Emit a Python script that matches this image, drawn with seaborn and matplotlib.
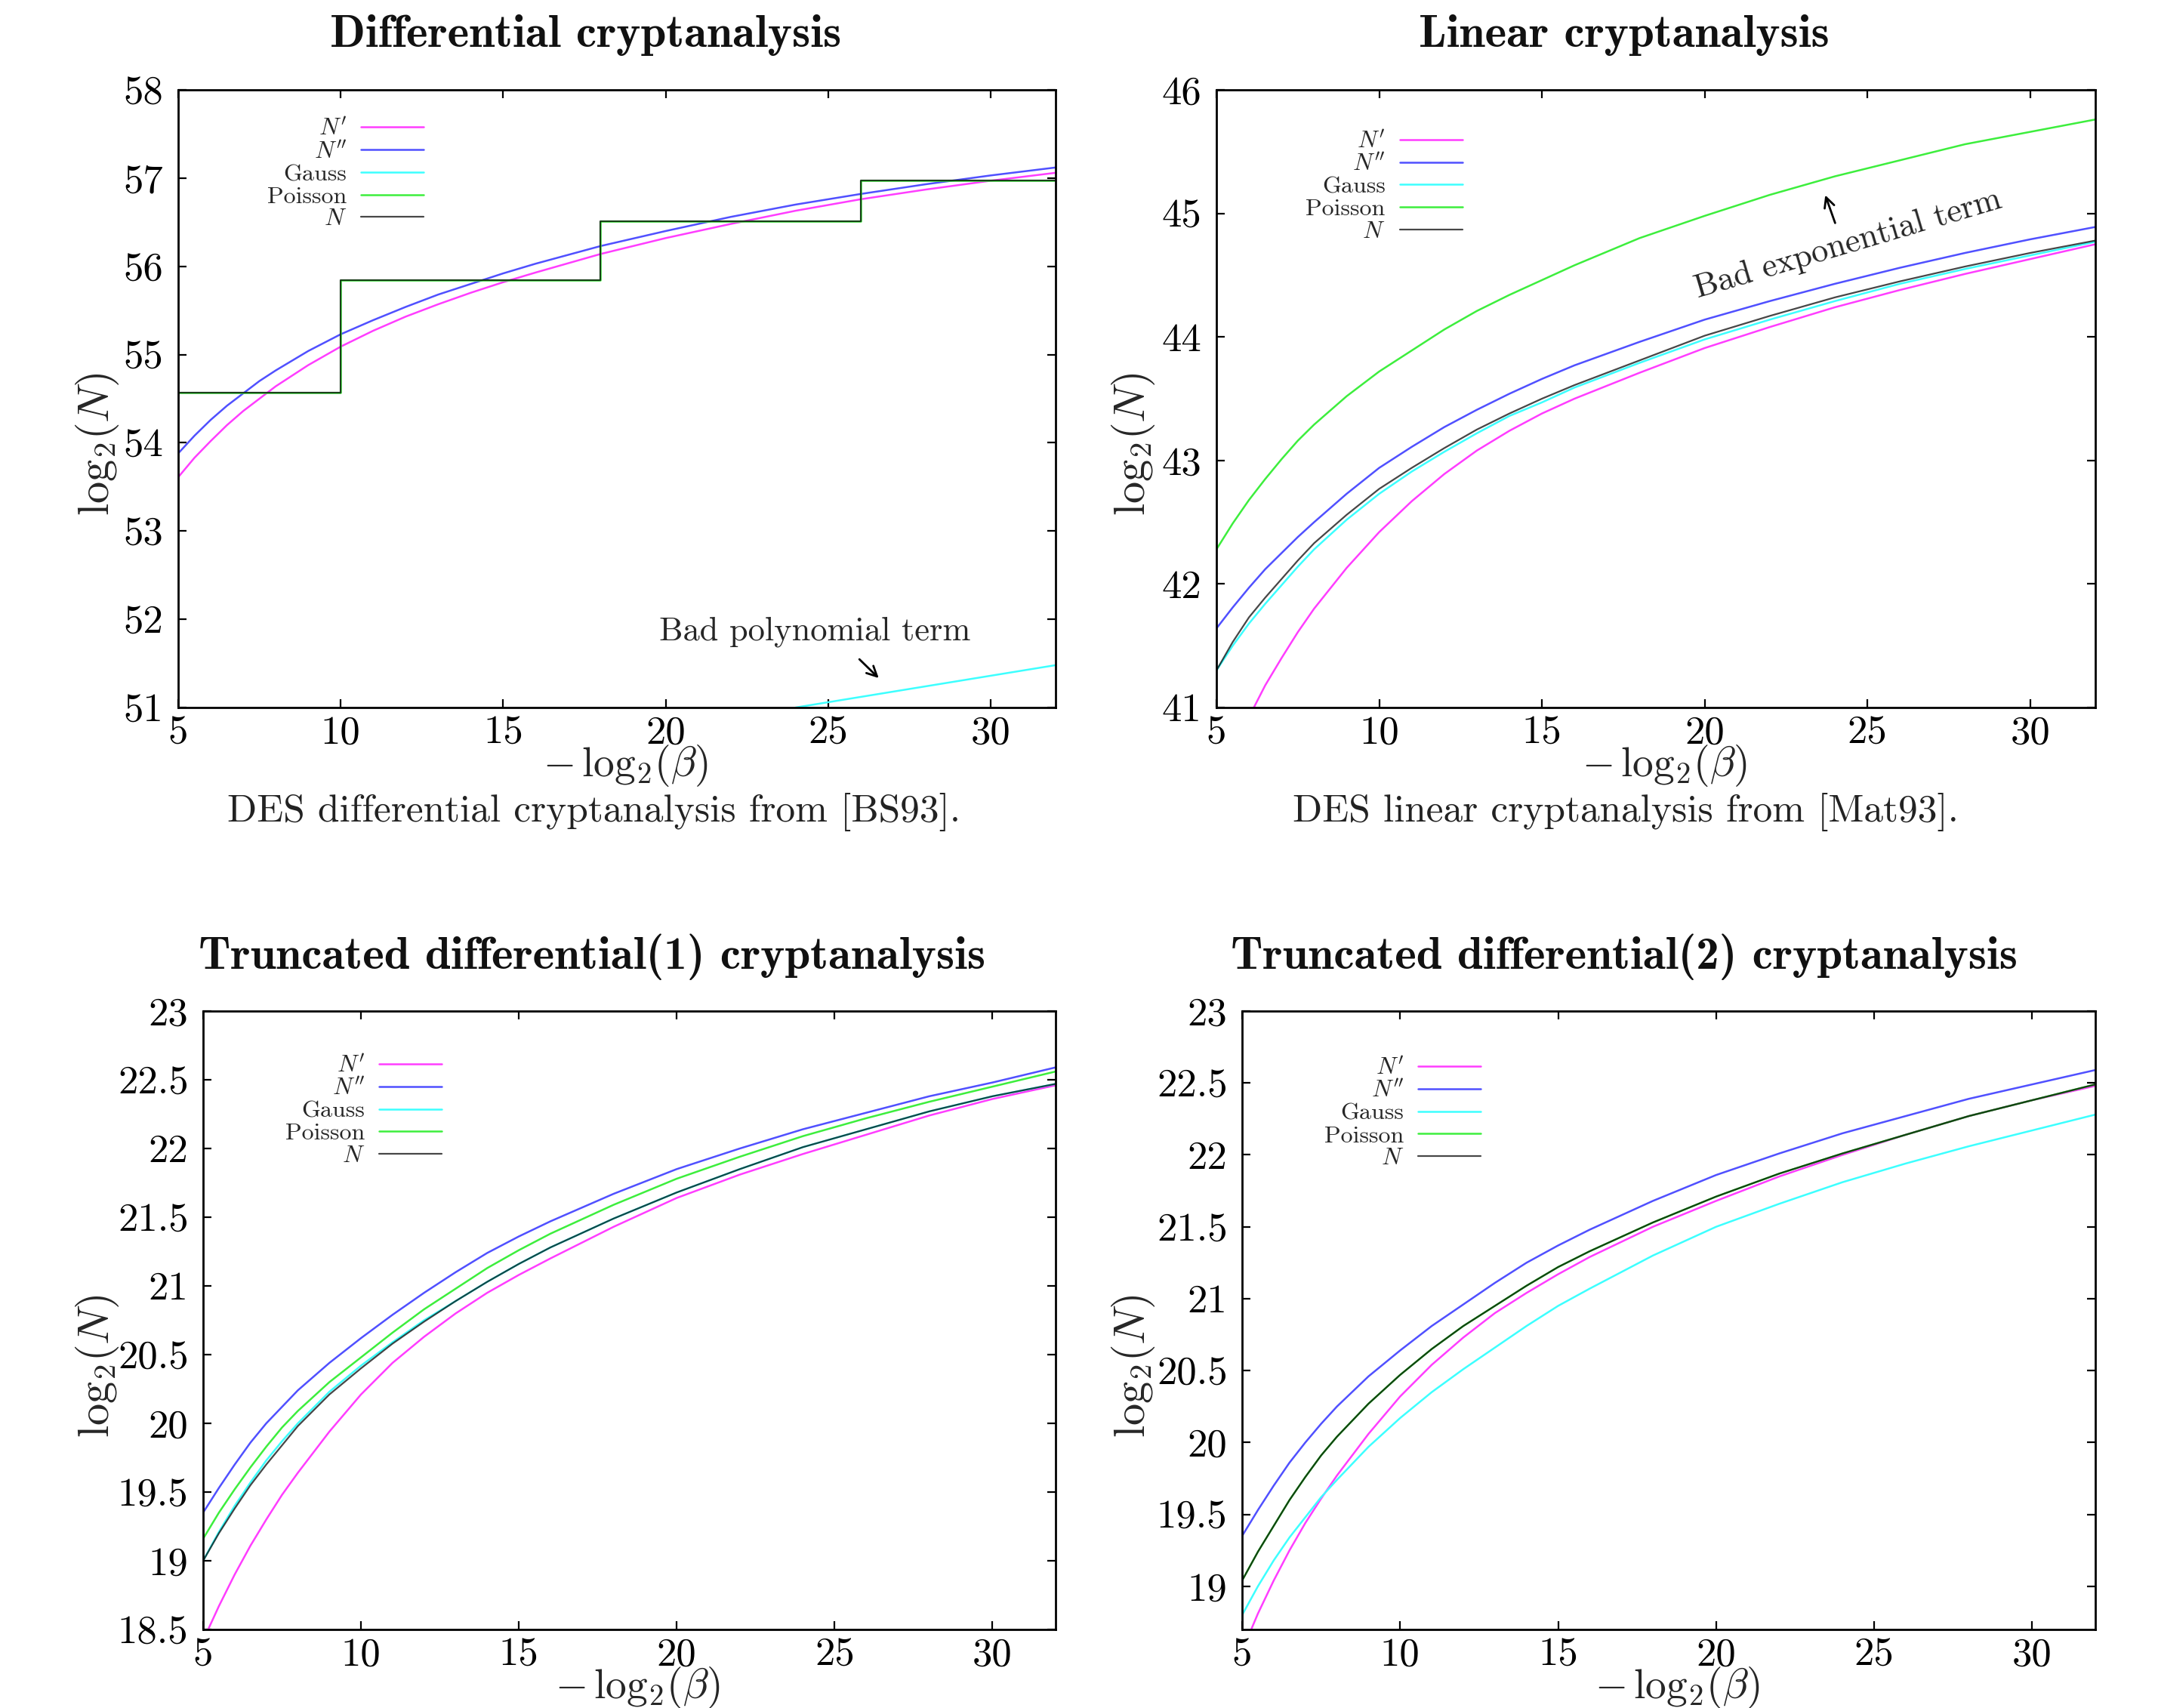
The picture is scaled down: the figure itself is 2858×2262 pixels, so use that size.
import matplotlib
matplotlib.use("Agg")
import matplotlib.pyplot as plt
import seaborn as sns

# values (x = -log2(beta), y = log2(N))
x_grid = [5, 5.5, 6, 6.5, 7, 7.5, 8, 9, 10, 11, 12, 13, 14, 15, 16, 18, 20, 22, 24, 26, 28, 30, 32]

# --- Differential cryptanalysis (top left)
dc_n1 = [53.61, 53.83, 54.02, 54.20, 54.36, 54.50, 54.64, 54.88, 55.09, 55.27, 55.43, 55.57,
         55.70, 55.82, 55.93, 56.14, 56.32, 56.48, 56.63, 56.76, 56.87, 56.97, 57.06]
dc_n2 = [53.88, 54.08, 54.26, 54.42, 54.56, 54.70, 54.82, 55.04, 55.23, 55.39, 55.54, 55.68,
         55.80, 55.92, 56.03, 56.23, 56.40, 56.56, 56.70, 56.82, 56.93, 57.03, 57.12]
dc_gauss_x = [24, 26, 28, 30, 32]
dc_gauss = [51.0, 51.12, 51.24, 51.36, 51.48]
dc_step_x = [5, 10, 18, 26, 32]
dc_pois = [54.57, 55.84, 56.51, 56.97, 56.97]
dc_n = [54.57, 55.84, 56.51, 56.97, 56.97]

# --- Linear cryptanalysis (top right)
lc_n1_x = [6.15, 6.5, 7, 7.5, 8, 9, 10, 11, 12, 13, 14, 15, 16, 18, 20, 22, 24, 26, 28, 30, 32]
lc_n1 = [41.0, 41.18, 41.40, 41.61, 41.80, 42.13, 42.42, 42.67, 42.89, 43.08, 43.24, 43.38,
         43.50, 43.71, 43.91, 44.08, 44.24, 44.38, 44.51, 44.63, 44.75]
lc_n2 = [41.64, 41.81, 41.97, 42.12, 42.25, 42.38, 42.50, 42.73, 42.94, 43.11, 43.27, 43.41,
         43.54, 43.66, 43.77, 43.96, 44.14, 44.29, 44.43, 44.56, 44.68, 44.79, 44.89]
lc_gauss = [41.30, 41.50, 41.68, 41.84, 41.99, 42.14, 42.28, 42.52, 42.73, 42.91, 43.07, 43.22,
            43.36, 43.47, 43.59, 43.79, 43.98, 44.14, 44.29, 44.43, 44.55, 44.66, 44.77]
lc_pois = [42.28, 42.49, 42.68, 42.85, 43.01, 43.16, 43.29, 43.52, 43.72, 43.89, 44.06, 44.21,
           44.34, 44.46, 44.58, 44.80, 44.98, 45.15, 45.30, 45.43, 45.56, 45.66, 45.76]
lc_n = [41.30, 41.53, 41.73, 41.89, 42.04, 42.19, 42.33, 42.56, 42.77, 42.94, 43.10, 43.25,
        43.38, 43.50, 43.61, 43.81, 44.01, 44.17, 44.32, 44.45, 44.57, 44.68, 44.78]

# --- Truncated differential(1) (bottom left)
t1_n1 = [18.42, 18.67, 18.90, 19.11, 19.30, 19.48, 19.64, 19.94, 20.21, 20.44, 20.63, 20.80,
         20.95, 21.08, 21.20, 21.43, 21.64, 21.81, 21.96, 22.10, 22.24, 22.36, 22.46]
t1_n2 = [19.35, 19.53, 19.70, 19.86, 20.00, 20.12, 20.24, 20.44, 20.62, 20.79, 20.95, 21.10,
         21.24, 21.36, 21.47, 21.67, 21.85, 22.00, 22.14, 22.26, 22.38, 22.48, 22.59]
t1_gauss = [19.00, 19.21, 19.40, 19.57, 19.73, 19.87, 20.00, 20.23, 20.42, 20.59, 20.75, 20.89,
            21.03, 21.16, 21.28, 21.49, 21.68, 21.85, 22.01, 22.14, 22.27, 22.38, 22.47]
t1_pois = [19.16, 19.35, 19.52, 19.68, 19.83, 19.97, 20.09, 20.30, 20.48, 20.66, 20.83, 20.98,
           21.13, 21.26, 21.38, 21.59, 21.78, 21.94, 22.09, 22.22, 22.34, 22.45, 22.56]
t1_n = [19.00, 19.20, 19.38, 19.55, 19.70, 19.84, 19.98, 20.21, 20.40, 20.58, 20.74, 20.89,
        21.03, 21.16, 21.28, 21.49, 21.68, 21.85, 22.01, 22.14, 22.27, 22.38, 22.47]

# --- Truncated differential(2) (bottom right)
t2_n1 = [18.55, 18.81, 19.04, 19.25, 19.44, 19.61, 19.77, 20.06, 20.32, 20.54, 20.73, 20.90,
         21.04, 21.17, 21.29, 21.50, 21.68, 21.85, 22.00, 22.14, 22.27, 22.38, 22.48]
t2_n2 = [19.35, 19.53, 19.70, 19.86, 20.00, 20.13, 20.25, 20.46, 20.64, 20.81, 20.96, 21.11,
         21.25, 21.37, 21.48, 21.68, 21.86, 22.01, 22.15, 22.27, 22.39, 22.49, 22.59]
t2_gauss = [18.80, 19.00, 19.18, 19.34, 19.48, 19.62, 19.74, 19.97, 20.17, 20.35, 20.51, 20.66,
            20.81, 20.95, 21.07, 21.30, 21.50, 21.66, 21.81, 21.94, 22.06, 22.17, 22.28]
t2_pois = [19.04, 19.24, 19.42, 19.60, 19.76, 19.91, 20.04, 20.27, 20.47, 20.65, 20.81, 20.95,
           21.09, 21.22, 21.33, 21.53, 21.71, 21.87, 22.01, 22.14, 22.27, 22.38, 22.49]
t2_n = [19.04, 19.24, 19.42, 19.60, 19.76, 19.91, 20.04, 20.27, 20.47, 20.65, 20.81, 20.95,
        21.09, 21.22, 21.33, 21.53, 21.71, 21.87, 22.01, 22.14, 22.27, 22.38, 22.49]

x_ticks = [5, 10, 15, 20, 25, 30]
dc_yticks = [51, 52, 53, 54, 55, 56, 57, 58]
lc_yticks = [41, 42, 43, 44, 45, 46]
t1_yticks = [18.5, 19, 19.5, 20, 20.5, 21, 21.5, 22, 22.5, 23]
t2_yticks = [19, 19.5, 20, 20.5, 21, 21.5, 22, 22.5, 23]

labels = ["$N'$", "$N''$", "Gauss", "Poisson", "$N$"]
colors = ["#ff3dff", "#5050ff", "#3dffff", "#3dee3d", "#000000"]

sns.set_theme(style="ticks")
plt.rcParams["font.family"] = "cmr10"
plt.rcParams["mathtext.fontset"] = "cm"
plt.rcParams["axes.formatter.use_mathtext"] = True

W, H = 2858, 2262
fig = plt.figure(figsize=(W / 200, H / 200), dpi=200)

ax_dc = fig.add_axes([236 / W, 1 - 937 / H, (1398 - 236) / W, (937 - 119) / H])
ax_lc = fig.add_axes([1611 / W, 1 - 937 / H, (2775 - 1611) / W, (937 - 119) / H])
ax_t1 = fig.add_axes([269 / W, 1 - 2158 / H, (1398 - 269) / W, (2158 - 1339) / H])
ax_t2 = fig.add_axes([1645 / W, 1 - 2158 / H, (2775 - 1645) / W, (2158 - 1339) / H])


def draw(ax, series, ylim, yticks, legend_anchor, ylab_pos):
    # series: list of (x, y, drawstyle)
    for (x, y, ds), lab, col in zip(series, labels, colors):
        alpha = 0.72 if lab == "$N$" else 1.0
        lw = 0.8 if lab == "$N$" else 0.9
        sns.lineplot(x=x, y=y, ax=ax, color=col, lw=lw, alpha=alpha, label=lab,
                     drawstyle=ds, errorbar=None, estimator=None)
    ax.set_xlim(5, 32)
    ax.set_ylim(*ylim)
    ax.set_xticks(x_ticks)
    ax.set_xticklabels([str(t) for t in x_ticks])
    ax.set_yticks(yticks)
    ax.set_yticklabels([f"{t:g}" for t in yticks])
    ax.tick_params(direction="in", top=True, right=True, length=4, width=0.8,
                   labelsize=19, colors="black")
    ax.tick_params(axis="x", pad=4)
    ax.tick_params(axis="y", pad=7)
    for s in ax.spines.values():
        s.set_color("black")
        s.set_linewidth(1.0)
    ax.set_xlabel(r"$-\,\mathrm{log}_2(\beta)$", fontsize=20)
    ax.set_ylabel(r"$\mathrm{log}_2(N)$", fontsize=21)
    ax.xaxis.set_label_coords(0.51, -0.057)
    ax.yaxis.set_label_coords(ylab_pos[0], ylab_pos[1], transform=fig.transFigure)
    h, l = ax.get_legend_handles_labels()
    ax.legend(h, l, loc="upper right", bbox_to_anchor=legend_anchor, frameon=False,
              markerfirst=False, fontsize=11.5, handlelength=2.6, handletextpad=0.6,
              labelspacing=0.04, borderpad=0, borderaxespad=0)


draw(ax_dc,
     [(x_grid, dc_n1, "default"), (x_grid, dc_n2, "default"), (dc_gauss_x, dc_gauss, "default"),
      (dc_step_x, dc_pois, "steps-post"), (dc_step_x, dc_n, "steps-post")],
     (51, 58), dc_yticks, (0.28, 0.954), (0.056, 0.740))
draw(ax_lc,
     [(lc_n1_x, lc_n1, "default"), (x_grid, lc_n2, "default"), (x_grid, lc_gauss, "default"),
      (x_grid, lc_pois, "default"), (x_grid, lc_n, "default")],
     (41, 46), lc_yticks, (0.28, 0.934), (0.536, 0.740))
draw(ax_t1,
     [(x_grid, t1_n1, "default"), (x_grid, t1_n2, "default"), (x_grid, t1_gauss, "default"),
      (x_grid, t1_pois, "default"), (x_grid, t1_n, "default")],
     (18.5, 23), t1_yticks, (0.28, 0.929), (0.056, 0.200))
draw(ax_t2,
     [(x_grid, t2_n1, "default"), (x_grid, t2_n2, "default"), (x_grid, t2_gauss, "default"),
      (x_grid, t2_pois, "default"), (x_grid, t2_n, "default")],
     (18.7, 23), t2_yticks, (0.28, 0.925), (0.536, 0.200))

# annotations
ax_dc.text(24.6, 51.86, "Bad polynomial term", ha="center", va="center", fontsize=16)
ax_dc.annotate("", xy=(26.65, 51.30), xytext=(25.87, 51.58),
               arrowprops=dict(arrowstyle="->", color="black", lw=1.0))
ax_lc.text(24.4, 44.75, "Bad exponential term", ha="center", va="center", fontsize=16,
           rotation=16.5, rotation_mode="anchor")
ax_lc.annotate("", xy=(23.66, 45.18), xytext=(24.05, 44.89),
               arrowprops=dict(arrowstyle="->", color="black", lw=1.0))

# titles and captions
title_kw = dict(ha="center", va="center", fontsize=22, family="cmb10", color="#111111")
fig.text(776 / W, 1 - 46 / H, "Differential cryptanalysis", **title_kw)
fig.text(2151 / W, 1 - 46 / H, "Linear cryptanalysis", **title_kw)
fig.text(784 / W, 1 - 1267 / H, "Truncated differential(1) cryptanalysis", **title_kw)
fig.text(2151 / W, 1 - 1267 / H, "Truncated differential(2) cryptanalysis", **title_kw)

cap_kw = dict(ha="center", va="center", fontsize=18.5, color="#222222")
fig.text(786 / W, 1 - 1075 / H, "DES differential cryptanalysis from [BS93].", **cap_kw)
fig.text(2153 / W, 1 - 1075 / H, "DES linear cryptanalysis from [Mat93].", **cap_kw)

fig.savefig("out.png", dpi=200)
